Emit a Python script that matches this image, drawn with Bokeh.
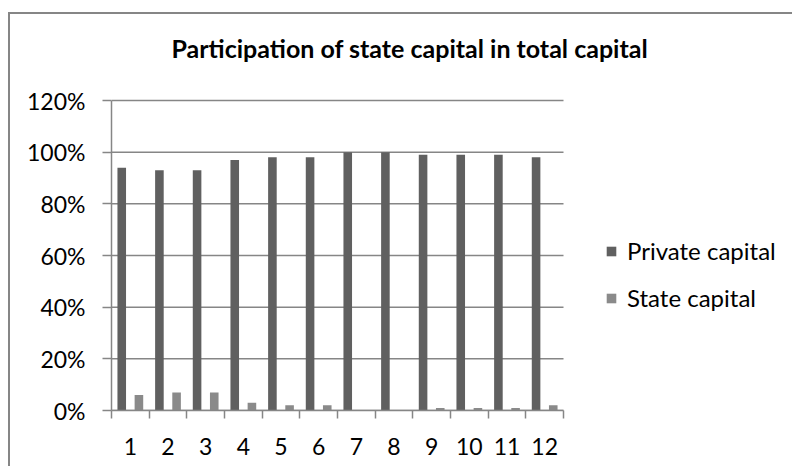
from bokeh.plotting import figure
from bokeh.models import (FixedTicker, Legend, LegendItem, Title,
                          NumeralTickFormatter, ColumnDataSource)
from bokeh.transform import dodge
from bokeh.embed import file_html
from bokeh.resources import INLINE

# ---- data ----
categories = ["1", "2", "3", "4", "5", "6", "7", "8", "9", "10", "11", "12"]
private_capital = [0.94, 0.93, 0.93, 0.97, 0.98, 0.98, 1.00, 1.00, 0.99, 0.99, 0.99, 0.98]
state_capital = [0.06, 0.07, 0.07, 0.03, 0.02, 0.02, 0.00, 0.00, 0.01, 0.01, 0.01, 0.02]
series_names = ["Private capital", "State capital"]
y_ticks = [0.0, 0.2, 0.4, 0.6, 0.8, 1.0, 1.2]
y_max = 1.2
title_text = "Participation of state capital in total capital"

FONT = "Lato"
GRID = "#868686"
C_PRIV = "#606060"
C_STATE = "#8a8a8a"

# ---- layout (pixels) ----
W, H = 784, 454
LEFT, TOP, BOTTOM = 101, 84, 58
PLOT_W, PLOT_H = 452, 310         # pixel size of the bar area (0..120%, 12 categories)
FRAME_W = W - LEFT                # frame extends right so the legend is not clipped
FRAME_H = H - TOP - BOTTOM
n = len(categories)
x_lo = 0.5
x_hi = x_lo + n * FRAME_W / PLOT_W
y_hi = y_max * FRAME_H / PLOT_H   # small headroom so the 120% line is not clipped

xpos = list(range(1, n + 1))
src = ColumnDataSource(dict(x=xpos, cat=categories,
                            private=private_capital, state=state_capital))

p = figure(width=W, height=H,
           x_range=(x_lo, x_hi), y_range=(0, y_hi),
           output_backend="svg", toolbar_location=None,
           min_border_left=LEFT, min_border_right=0,
           min_border_top=TOP, min_border_bottom=BOTTOM)
p.title_location = None
p.styles = {"border-left": f"2px solid {GRID}",
            "border-top": f"2px solid {GRID}",
            "margin-top": "12px", "margin-left": "8px"}

# spacer between the plot area and the chart title
p.add_layout(Title(text=" ", text_font_size="2px", standoff=32), "above")
p.add_layout(Title(text=title_text, align="left", offset=60, vertical_align="bottom",
                   text_font=FONT, text_font_size="25px", text_font_style="bold",
                   text_color="black", standoff=0), "above")

# horizontal gridlines over the category area only
p.segment(x0=[x_lo] * len(y_ticks), y0=y_ticks,
          x1=[n + 0.5] * len(y_ticks), y1=y_ticks,
          line_color=GRID, line_width=1.5)

bw = 0.228
r1 = p.vbar(x=dodge("x", -bw, range=p.x_range), top="private", width=bw,
            source=src, fill_color=C_PRIV, line_color=None)
r2 = p.vbar(x=dodge("x", bw, range=p.x_range), top="state", width=bw,
            source=src, fill_color=C_STATE, line_color=None)

p.outline_line_color = None
p.xgrid.visible = False
p.ygrid.visible = False

# y axis
p.yaxis.ticker = FixedTicker(ticks=y_ticks)
p.yaxis.formatter = NumeralTickFormatter(format="0%")
p.yaxis.bounds = (0, y_max)
p.yaxis.axis_line_color = GRID
p.yaxis.axis_line_width = 1.5
p.yaxis.major_tick_line_color = GRID
p.yaxis.major_tick_line_width = 1.5
p.yaxis.major_tick_out = 9
p.yaxis.major_tick_in = 0
p.yaxis.minor_tick_line_color = None
p.yaxis.major_label_standoff = 17
p.yaxis.major_label_text_font = FONT
p.yaxis.major_label_text_font_size = "23px"
p.yaxis.major_label_text_color = "black"

# x axis: labels at category centres, tick marks at category boundaries
bounds = [0.5 + i for i in range(n + 1)]
p.xaxis.ticker = FixedTicker(ticks=xpos, minor_ticks=bounds)
p.xaxis.major_label_overrides = {x: c for x, c in zip(xpos, categories)}
p.xaxis.bounds = (0.5, n + 0.5)
p.xaxis.axis_line_color = GRID
p.xaxis.axis_line_width = 1.5
p.xaxis.major_tick_line_color = None
p.xaxis.major_tick_out = 0
p.xaxis.major_tick_in = 0
p.xaxis.minor_tick_line_color = GRID
p.xaxis.minor_tick_line_width = 1.5
p.xaxis.minor_tick_out = 8
p.xaxis.minor_tick_in = 0
p.xaxis.major_label_standoff = 19
p.xaxis.major_label_text_font = FONT
p.xaxis.major_label_text_font_size = "23px"
p.xaxis.major_label_text_color = "black"

legend = Legend(items=[LegendItem(label=series_names[0], renderers=[r1]),
                       LegendItem(label=series_names[1], renderers=[r2])],
                location=(494, 98))
legend.border_line_color = None
legend.background_fill_alpha = 0
legend.padding = 0
legend.margin = 0
legend.glyph_width = 12
legend.glyph_height = 12
legend.label_standoff = 10
legend.spacing = 18
legend.label_height = 24
legend.label_text_font = FONT
legend.label_text_font_size = "24px"
legend.label_text_color = "black"
p.add_layout(legend)

open("out.html", "w").write(file_html(p, INLINE))
